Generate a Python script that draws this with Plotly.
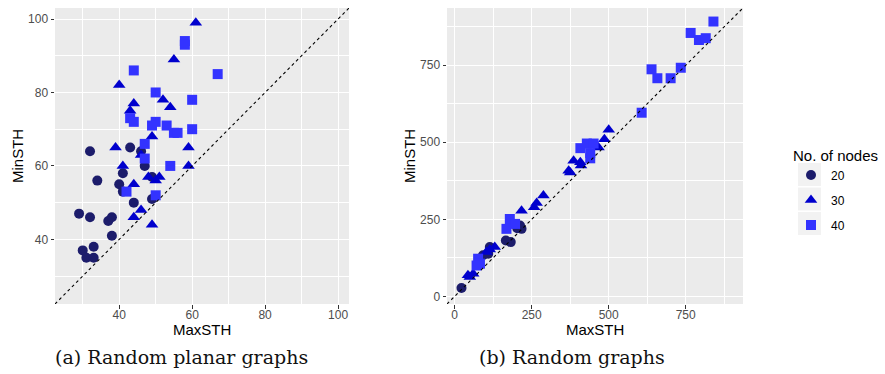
import plotly.graph_objects as go

W, H = 885, 374

# ---------------- data: (a) random planar graphs ----------------
a20_max = [32, 34, 43, 46, 47, 41, 40, 41, 44, 49, 49, 29, 32, 37, 38, 38, 30, 33, 31, 33]
a20_min = [64, 56, 65, 64, 60, 58, 55, 53, 50, 51, 57, 47, 46, 45, 46, 41, 37, 38, 35, 35]
a30_max = [61, 55, 40, 44, 43, 52, 54, 49, 39, 59, 46, 41, 59, 44, 48, 51, 50, 46, 44, 49]
a30_min = [99, 89, 82, 77, 75, 78, 76, 68, 65, 65, 63, 60, 60, 55, 57, 57, 56, 48, 46, 44]
a40_max = [58, 58, 44, 67, 50, 60, 43, 44, 50, 49, 53, 55, 56, 60, 47, 47, 54, 42, 50]
a40_min = [94, 93, 86, 85, 80, 78, 73, 72, 72, 71, 71, 69, 69, 70, 66, 62, 60, 53, 52]

# ---------------- data: (b) random graphs ----------------
b20_max = [22, 166, 182, 212, 203, 217, 114, 109, 92]
b20_min = [27, 181, 176, 230, 221, 219, 160, 138, 133]
b30_max = [500, 486, 467, 386, 408, 370, 375, 288, 266, 258, 217, 130, 114, 103, 60, 43, 49, 410]
b30_min = [541, 510, 483, 440, 435, 408, 402, 327, 303, 289, 278, 160, 152, 144, 73, 68, 63, 425]
b40_max = [840, 766, 793, 815, 734, 639, 658, 701, 607, 408, 429, 451, 440, 440, 168, 179, 196, 76, 82, 71]
b40_min = [892, 855, 832, 838, 742, 737, 708, 708, 596, 481, 496, 496, 465, 448, 219, 251, 235, 122, 106, 100]

groups = ["20", "30", "40"]
colors = ["#1c1c6b", "#0000cd", "#3333ff"]
symbols = ["circle", "triangle-up", "square"]
sizes = [10, 11, 10]

a_ticks = [40, 60, 80, 100]
a_minor = [30, 50, 70, 90]
b_ticks = [0, 250, 500, 750]
b_minor = [125, 375, 625, 875]
a_range = [22.4, 103]
b_range = [-25, 936]

captions = ["(a) Random planar graphs", "(b) Random graphs"]

fig = go.Figure()

def px_x(p):
    return p / W

def px_y(p):
    return 1 - p / H

top, bot = 8, 304
dom_a = [px_x(55), px_x(349)]
dom_b = [px_x(447), px_x(743)]
dom_y = [px_y(bot), px_y(top)]

a_data = [(a20_max, a20_min), (a30_max, a30_min), (a40_max, a40_min)]
b_data = [(b20_max, b20_min), (b30_max, b30_min), (b40_max, b40_min)]

for i, g in enumerate(groups):
    fig.add_trace(go.Scatter(
        x=a_data[i][0], y=a_data[i][1], mode="markers", name=g,
        legendgroup=g, showlegend=True,
        marker=dict(color=colors[i], symbol=symbols[i], size=sizes[i], line=dict(width=0)),
        xaxis="x", yaxis="y"))
for i, g in enumerate(groups):
    fig.add_trace(go.Scatter(
        x=b_data[i][0], y=b_data[i][1], mode="markers", name=g,
        legendgroup=g, showlegend=False,
        marker=dict(color=colors[i], symbol=symbols[i], size=sizes[i], line=dict(width=0)),
        xaxis="x2", yaxis="y2"))

# diagonal y = x across each panel's range
for xr, yr, rng in [("x", "y", a_range), ("x2", "y2", b_range)]:
    fig.add_shape(type="line", xref=xr, yref=yr, x0=rng[0], y0=rng[0], x1=rng[1], y1=rng[1],
                  line=dict(color="black", width=1.1, dash="3px,3px"), layer="above")

tickfont = dict(family="Liberation Sans, Arial, sans-serif", size=12, color="#4d4d4d")
axis_common = dict(
    showgrid=True, gridcolor="white", gridwidth=1.1, zeroline=False,
    ticks="outside", ticklen=3.5, tickcolor="#333333", tickwidth=1,
    tickfont=tickfont, showline=False, fixedrange=True,
)

def minor(vals):
    return dict(tickvals=vals, showgrid=True, gridcolor="white", gridwidth=0.5, ticks="")

fig.update_layout(
    width=W, height=H,
    margin=dict(l=0, r=0, t=0, b=0),
    paper_bgcolor="white",
    plot_bgcolor="#ebebeb",
    showlegend=True,
    xaxis=dict(domain=dom_a, range=a_range, tickvals=a_ticks, anchor="y",
               minor=minor(a_minor), ticklabelstandoff=-4, **axis_common),
    yaxis=dict(domain=dom_y, range=a_range, tickvals=a_ticks, anchor="x",
               minor=minor(a_minor), **axis_common),
    xaxis2=dict(domain=dom_b, range=b_range, tickvals=b_ticks, anchor="y2",
                minor=minor(b_minor), ticklabelstandoff=-4, **axis_common),
    yaxis2=dict(domain=dom_y, range=b_range, tickvals=b_ticks, anchor="x2",
                minor=minor(b_minor), **axis_common),
    legend=dict(
        title=dict(text="No. of nodes", font=dict(family="Liberation Sans, Arial, sans-serif", size=15, color="black")),
        font=dict(family="Liberation Sans, Arial, sans-serif", size=12, color="black"),
        x=px_x(791), y=px_y(141), xanchor="left", yanchor="top",
        bgcolor="rgba(0,0,0,0)", borderwidth=0, tracegroupgap=6,
        itemwidth=30,
    ),
)

# legend key backgrounds
for k in range(3):
    y0 = 163 + k * 24.5
    fig.add_shape(type="rect", xref="paper", yref="paper",
                  x0=px_x(798), x1=px_x(821), y0=px_y(y0 + 23), y1=px_y(y0),
                  fillcolor="#f2f2f2", line=dict(width=0), layer="below")

title_font = dict(family="Liberation Sans, Arial, sans-serif", size=15, color="black")
ann = []
for cx in [202, 595]:
    ann.append(dict(text="MaxSTH", x=px_x(cx), y=px_y(329), xref="paper", yref="paper",
                    showarrow=False, font=title_font, xanchor="center", yanchor="middle"))
for cx in [17, 409]:
    ann.append(dict(text="MinSTH", x=px_x(cx), y=px_y(156), xref="paper", yref="paper",
                    showarrow=False, font=title_font, textangle=-90, xanchor="center", yanchor="middle"))
cap_font = dict(family="DejaVu Serif, Liberation Serif, serif", size=19, color="#111111")
for cx, txt in zip([181, 572], captions):
    ann.append(dict(text=txt, x=px_x(cx), y=px_y(357), xref="paper", yref="paper",
                    showarrow=False, font=cap_font, xanchor="center", yanchor="middle"))
fig.update_layout(annotations=ann)

fig.write_html("out.html", config={"displayModeBar": False},
               post_script="document.body.style.margin='0';document.body.style.overflow='hidden';")
